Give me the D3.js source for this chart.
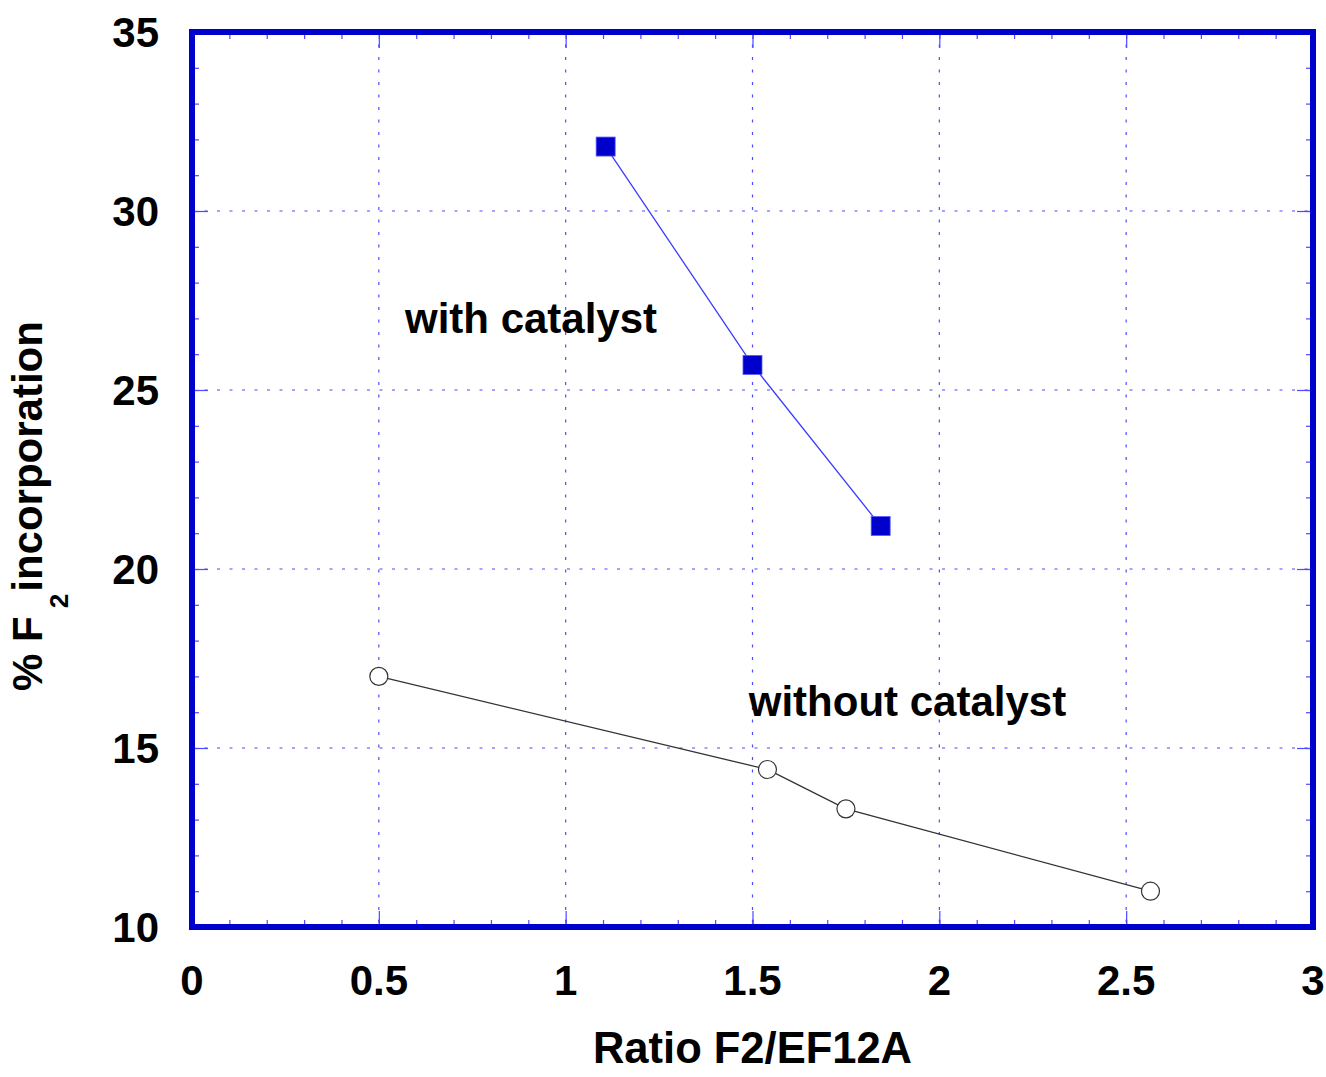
<!DOCTYPE html>
<html>
<head>
<meta charset="utf-8">
<script src="https://cdn.jsdelivr.net/npm/d3@7"></script>
<style>
  body { margin: 0; background: #fff; }
  text { font-family: "Liberation Sans", Arial, sans-serif; font-weight: bold; fill: #000; }
</style>
</head>
<body>
<svg id="chart" width="1326" height="1077"></svg>
<script>
// data
var withX = [1.107, 1.5, 1.843];
var withY = [31.8, 25.7, 21.2];
var withoutX = [0.5, 1.54, 1.75, 2.565];
var withoutY = [17.0, 14.4, 13.3, 11.0];
var xTicks = [0, 0.5, 1, 1.5, 2, 2.5, 3];
var yTicks = [10, 15, 20, 25, 30, 35];
var labelText = ["with catalyst", "without catalyst"];
var labelX = [0.57, 1.49];
var labelY = [26.6, 15.9];

var svg = d3.select("#chart");
var plotL = 192, plotR = 1313, plotT = 32, plotB = 927;

var xScale = d3.scaleLinear().domain([0, 3]).range([plotL, plotR]);
var yScale = d3.scaleLinear().domain([10, 35]).range([plotB, plotT]);

var frameCol = "#0000cc", gridCol = "#4b4bff";

// grid lines (dotted) at major ticks
var g = svg.append("g");
xTicks.slice(1, -1).forEach(function (t) {
    g.append("line")
        .attr("x1", xScale(t)).attr("x2", xScale(t))
        .attr("y1", plotT).attr("y2", plotB)
        .attr("stroke", gridCol).attr("stroke-width", 1.2)
        .attr("stroke-dasharray", "3,9.5");
});
yTicks.slice(1, -1).forEach(function (t) {
    g.append("line")
        .attr("x1", plotL).attr("x2", plotR)
        .attr("y1", yScale(t)).attr("y2", yScale(t))
        .attr("stroke", gridCol).attr("stroke-width", 1.2)
        .attr("stroke-dasharray", "3,9.5");
});

// inside ticks on all four sides, via d3 axes
var xMinor = d3.range(0, 3.0001, 0.1).map(function (d) { return +d.toFixed(1); });
var yMinor = d3.range(10, 35.0001, 1);

function tickAxis(axis, tr, len, vals) {
    var a = svg.append("g").attr("transform", tr)
        .call(axis.tickValues(vals).tickSize(len).tickFormat(""));
    a.select(".domain").remove();
    a.selectAll(".tick line").attr("stroke", gridCol).attr("stroke-width", 1.2);
}
tickAxis(d3.axisTop(xScale), "translate(0," + plotB + ")", 7, xMinor);
tickAxis(d3.axisTop(xScale), "translate(0," + plotB + ")", 16, xTicks);
tickAxis(d3.axisBottom(xScale), "translate(0," + plotT + ")", 7, xMinor);
tickAxis(d3.axisBottom(xScale), "translate(0," + plotT + ")", 16, xTicks);
tickAxis(d3.axisRight(yScale), "translate(" + plotL + ",0)", 7, yMinor);
tickAxis(d3.axisRight(yScale), "translate(" + plotL + ",0)", 16, yTicks);
tickAxis(d3.axisLeft(yScale), "translate(" + plotR + ",0)", 7, yMinor);
tickAxis(d3.axisLeft(yScale), "translate(" + plotR + ",0)", 16, yTicks);

// tick labels
svg.selectAll(".xl").data(xTicks).enter().append("text")
    .attr("x", function (d) { return xScale(d); })
    .attr("y", 995)
    .attr("text-anchor", "middle")
    .style("font-size", "42px")
    .text(function (d) { return d; });
svg.selectAll(".yl").data(yTicks).enter().append("text")
    .attr("x", 159)
    .attr("y", function (d) { return yScale(d) + 15; })
    .attr("text-anchor", "end")
    .style("font-size", "42px")
    .text(function (d) { return d; });

// series lines
var line = d3.line()
    .x(function (d) { return xScale(d[0]); })
    .y(function (d) { return yScale(d[1]); });

var withPts = withX.map(function (x, i) { return [x, withY[i]]; });
var withoutPts = withoutX.map(function (x, i) { return [x, withoutY[i]]; });

svg.append("path").datum(withPts)
    .attr("d", line).attr("fill", "none")
    .attr("stroke", "#3c3cff").attr("stroke-width", 1.3);
svg.append("path").datum(withoutPts)
    .attr("d", line).attr("fill", "none")
    .attr("stroke", "#333").attr("stroke-width", 1.3);

// markers
svg.selectAll(".sq").data(withPts).enter().append("rect")
    .attr("x", function (d) { return xScale(d[0]) - 9.5; })
    .attr("y", function (d) { return yScale(d[1]) - 9.5; })
    .attr("width", 19).attr("height", 19)
    .attr("fill", frameCol).attr("stroke", "#5a5aff").attr("stroke-width", 0.8);
svg.selectAll(".ci").data(withoutPts).enter().append("circle")
    .attr("cx", function (d) { return xScale(d[0]); })
    .attr("cy", function (d) { return yScale(d[1]); })
    .attr("r", 9)
    .attr("fill", "#fff").attr("stroke", "#333").attr("stroke-width", 1.2);

// frame
svg.append("rect")
    .attr("x", plotL).attr("y", plotT)
    .attr("width", plotR - plotL).attr("height", plotB - plotT)
    .attr("fill", "none").attr("stroke", frameCol).attr("stroke-width", 6);

// annotations
labelText.forEach(function (t, i) {
    svg.append("text")
        .attr("x", xScale(labelX[i]))
        .attr("y", yScale(labelY[i]))
        .style("font-size", "42px")
        .text(t);
});

// axis titles
svg.append("text")
    .attr("x", (plotL + plotR) / 2).attr("y", 1063)
    .attr("text-anchor", "middle")
    .style("font-size", "43.5px")
    .text("Ratio F2/EF12A");

var yt = svg.append("text")
    .attr("transform", "translate(42,506) rotate(-90)")
    .attr("text-anchor", "middle")
    .style("font-size", "42px");
yt.append("tspan").text("% F");
yt.append("tspan").attr("dx", 8).attr("dy", 26).style("font-size", "26px").text("2");
yt.append("tspan").attr("dx", 2).attr("dy", -26).text("incorporation");
</script>
</body>
</html>
